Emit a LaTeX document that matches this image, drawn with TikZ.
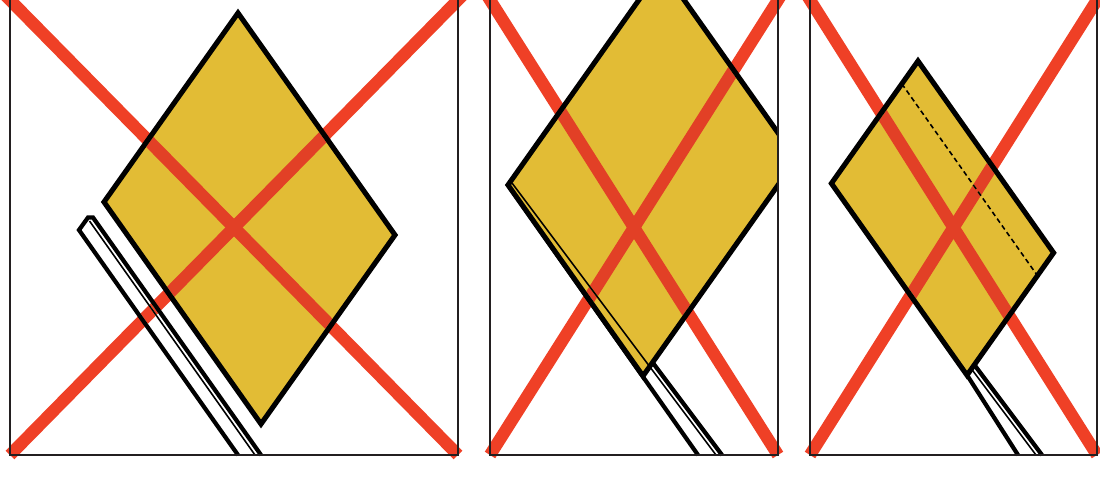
\documentclass[tikz,border=0pt]{standalone}
\usepackage{xcolor}
\usepackage{tikz}
\usetikzlibrary{calc}

\definecolor{tabyellow}{RGB}{226,188,53}
\definecolor{krizred}{RGB}{239,64,38}
\definecolor{ramgray}{RGB}{35,31,32}

\begin{document}
\begin{tikzpicture}[x=0.02cm, y=-0.02cm,
  ramecek/.style={draw=ramgray, line width=1.6pt},
  kriz/.style={draw=krizred, line width=7pt, blend mode=darken},
  tabule/.style={draw=black, fill=tabyellow, line width=2.9pt, line join=miter},
  sloupek/.style={draw=black, line width=2.4pt},
  hrana/.style={draw=black, line width=0.9pt}]
  \useasboundingbox (0,0) rectangle (1100,477);

  % Tabule 1 (sloupek vedle tabule)
  \draw[sloupek, fill=white] (238,455) -- (79,230) -- (88,217.5) -- (93,217.5) -- (261,455);
  \draw[hrana] (89.5,221) -- (255,455);
  \draw[tabule] (238,13) -- (395,235) -- (261,424) -- (104,202) -- cycle;
  \draw[ramecek] (10,0) -- (10,455) -- (458,455) -- (458,0);

  % Tabule 2 (oriznuta ramem)
  \begin{scope}
    \clip (490,-20) rectangle (778,460);
    \fill[white] (508,185) -- (698,455) -- (722,455) -- (584,271) -- cycle;
    \draw[sloupek] (508,185) -- (698,455);
    \draw[sloupek] (584,271) -- (722,455);
    \draw[tabule] (508,185) -- (643,376) -- (796.5,159) -- (661.5,-32) -- cycle;
    \draw[hrana] (512,183) -- (716,455);
  \end{scope}
  \draw[ramecek] (490,0) -- (490,455) -- (778,455) -- (778,0);

  % Tabule 3 (mensi, s carkovanou hranou)
  \fill[white] (967,375) -- (1018,455) -- (1042,455) -- (967,355) -- cycle;
  \draw[sloupek] (967,375) -- (1018,455);
  \draw[sloupek] (967,355) -- (1042,455);
  \draw[hrana] (961,355) -- (1036,455);
  \draw[tabule] (918,61) -- (1053.6,252.8) -- (967,375.2) -- (831.4,183.4) -- cycle;
  \draw[hrana, dash pattern=on 2.8pt off 1.9pt] (901.8,83.8) -- (1037.4,275.6);
  \draw[ramecek] (810,0) -- (810,455) -- (1097,455) -- (1097,0);

  % Krize
  \draw[kriz] (10,455) -- ($(10,455)!1.04!(458,0)$);
  \draw[kriz] (458,455) -- ($(458,455)!1.04!(10,0)$);
  \draw[kriz] (490,455) -- ($(490,455)!1.04!(778,0)$);
  \draw[kriz] (778,455) -- ($(778,455)!1.04!(490,0)$);
  \draw[kriz] (810,455) -- ($(810,455)!1.04!(1097,0)$);
  \draw[kriz] (1097,455) -- ($(1097,455)!1.04!(810,0)$);
\end{tikzpicture}
\end{document}
